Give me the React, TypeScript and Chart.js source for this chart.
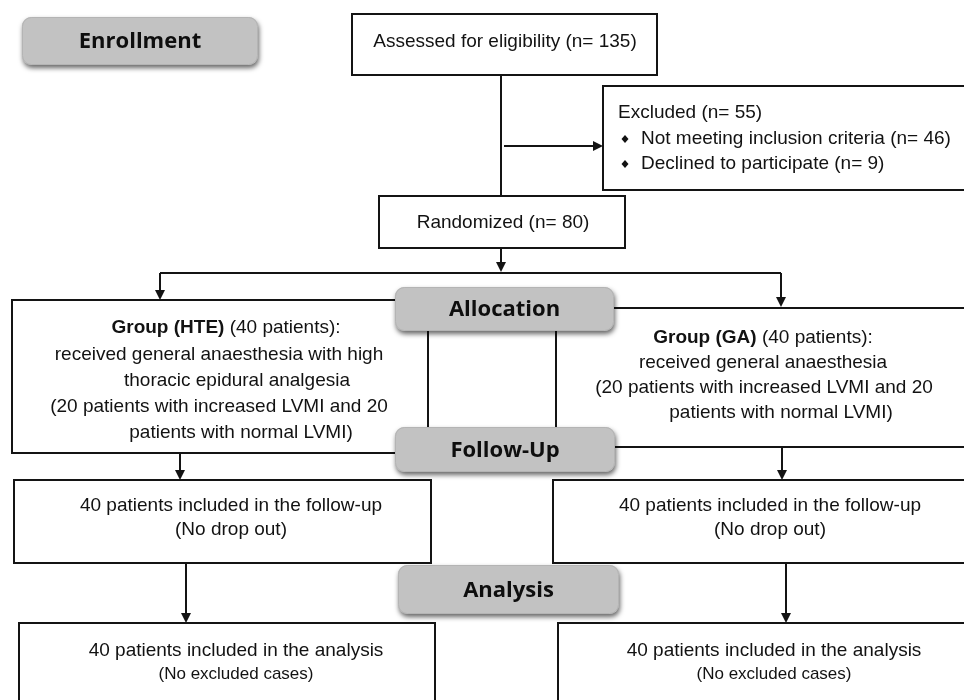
import React, { useEffect, useRef } from "react";
import { Chart, registerables } from "chart.js";

Chart.register(...registerables);

// ---- Text content ----
const stageLabels = ["Enrollment", "Allocation", "Follow-Up", "Analysis"];
const assessedLines = ["Assessed for eligibility (n= 135)"];
const excludedTitle = "Excluded (n= 55)";
const excludedBullets = ["Not meeting inclusion criteria (n= 46)", "Declined to participate (n= 9)"];
const randomizedLines = ["Randomized (n= 80)"];
const hteLines = [
  [["Group (HTE)", true], [" (40 patients):", false]],
  [["received general anaesthesia with high", false]],
  [["thoracic epidural analgesia", false]],
  [["(20 patients with increased LVMI and 20", false]],
  [["patients with normal LVMI)", false]],
];
const gaLines = [
  [["Group (GA)", true], [" (40 patients):", false]],
  [["received general anaesthesia", false]],
  [["(20 patients with increased LVMI and 20", false]],
  [["patients with normal LVMI)", false]],
];
const followUpLines = ["40 patients included in the follow-up", "(No drop out)"];
const analysisLines = ["40 patients included in the analysis", "(No excluded cases)"];

// ---- Layout (diagram coordinates, 964 x 700) ----
const pillRects = [
  [22, 17, 258, 65],
  [395, 287, 614, 331],
  [395, 427, 615, 472],
  [398, 565, 619, 614],
];
const boxRects = {
  assessed: [352, 14, 657, 75],
  excluded: [603, 86, 975, 190],
  randomized: [379, 196, 625, 248],
  hte: [12, 300, 428, 453],
  ga: [556, 308, 975, 447],
  fuL: [14, 480, 431, 563],
  fuR: [553, 480, 975, 563],
  anL: [19, 623, 435, 710],
  anR: [558, 623, 975, 710],
};
const connectors = [
  [[501, 75], [501, 196]],
  [[504, 146], [596, 146]],
  [[501, 248], [501, 264]],
  [[160, 273], [781, 273]],
  [[160, 273], [160, 292]],
  [[781, 273], [781, 300]],
  [[180, 453], [180, 472]],
  [[782, 447], [782, 472]],
  [[186, 563], [186, 615]],
  [[786, 563], [786, 615]],
];
// arrow tips: [x, y, direction]
const arrowTips = [
  [603, 146, "right"],
  [501, 272, "down"],
  [160, 300, "down"],
  [781, 307, "down"],
  [180, 480, "down"],
  [782, 480, "down"],
  [186, 623, "down"],
  [786, 623, "down"],
];

const hteX = [226, 219, 237, 219, 241];
const hteY = [327, 354, 380, 406, 432];
const gaX = [763, 763, 764, 781];
const gaY = [337, 362, 387, 412];

const INK = "#141414";
const FONT = "'Liberation Sans', Arial, sans-serif";
const PILL_FONT = "'Open Sans', 'Noto Sans', sans-serif";

const flowPlugin = {
  id: "flow",
  beforeDatasetsDraw(chart: any) {
    const ctx = chart.ctx as CanvasRenderingContext2D;
    const X = (v: number) => chart.scales.x.getPixelForValue(v);
    const Y = (v: number) => chart.scales.y.getPixelForValue(v);
    ctx.save();
    ctx.fillStyle = "#ffffff";
    ctx.fillRect(0, 0, chart.width, chart.height);
    ctx.strokeStyle = INK;
    ctx.lineWidth = 2;
    Object.values(boxRects).forEach((r: any) => {
      const x0 = X(r[0]), y0 = Y(r[1]), x1 = X(r[2]), y1 = Y(r[3]);
      ctx.fillStyle = "#ffffff";
      ctx.fillRect(x0, y0, x1 - x0, y1 - y0);
      ctx.strokeRect(x0, y0, x1 - x0, y1 - y0);
    });
    ctx.restore();
  },
  afterDatasetsDraw(chart: any) {
    const ctx = chart.ctx as CanvasRenderingContext2D;
    const X = (v: number) => chart.scales.x.getPixelForValue(v);
    const Y = (v: number) => chart.scales.y.getPixelForValue(v);
    ctx.save();

    // arrowheads
    ctx.fillStyle = INK;
    arrowTips.forEach(([x, y, d]: any) => {
      const px = X(x), py = Y(y);
      ctx.beginPath();
      if (d === "down") {
        ctx.moveTo(px, py);
        ctx.lineTo(px - 5, py - 10);
        ctx.lineTo(px + 5, py - 10);
      } else {
        ctx.moveTo(px, py);
        ctx.lineTo(px - 10, py - 5);
        ctx.lineTo(px - 10, py + 5);
      }
      ctx.closePath();
      ctx.fill();
    });

    // pills
    pillRects.forEach((r, i) => {
      const x0 = X(r[0]), y0 = Y(r[1]), x1 = X(r[2]), y1 = Y(r[3]);
      ctx.save();
      ctx.shadowColor = "rgba(0,0,0,0.6)";
      ctx.shadowBlur = 5;
      ctx.shadowOffsetX = 1;
      ctx.shadowOffsetY = 3;
      ctx.fillStyle = "#c2c2c2";
      ctx.beginPath();
      (ctx as any).roundRect(x0, y0, x1 - x0, y1 - y0, 9);
      ctx.fill();
      ctx.restore();
      ctx.strokeStyle = "#b4b4b4";
      ctx.lineWidth = 1;
      ctx.beginPath();
      (ctx as any).roundRect(x0 + 0.5, y0 + 0.5, x1 - x0 - 1, y1 - y0 - 1, 9);
      ctx.stroke();
      ctx.fillStyle = "#0e0e0e";
      ctx.font = `bold 22px ${PILL_FONT}`;
      ctx.textAlign = "center";
      ctx.textBaseline = "middle";
      ctx.fillText(stageLabels[i], (x0 + x1) / 2, (y0 + y1) / 2 + 1);
    });

    // texts
    ctx.fillStyle = "#121212";
    ctx.textBaseline = "middle";
    const plain = (t: string, cx: number, cy: number, size = 19, align: CanvasTextAlign = "center") => {
      ctx.font = `${size}px ${FONT}`;
      ctx.textAlign = align;
      ctx.fillText(t, X(cx), Y(cy) + 1);
    };
    const rich = (segs: any[], cx: number, cy: number, size = 19) => {
      let total = 0;
      const widths = segs.map(([t, b]) => {
        ctx.font = `${b ? "bold " : ""}${size}px ${FONT}`;
        const w = ctx.measureText(t).width;
        total += w;
        return w;
      });
      let x = X(cx) - total / 2;
      ctx.textAlign = "left";
      segs.forEach(([t, b], k) => {
        ctx.font = `${b ? "bold " : ""}${size}px ${FONT}`;
        ctx.fillText(t, x, Y(cy) + 1);
        x += widths[k];
      });
    };

    plain(assessedLines[0], 505, 41);
    plain(excludedTitle, 618, 112, 19, "left");
    excludedBullets.forEach((t, k) => {
      const by = 138 + k * 25;
      const bx = X(625), byy = Y(by) + 1;
      ctx.beginPath();
      ctx.moveTo(bx, byy - 4);
      ctx.lineTo(bx + 3.5, byy);
      ctx.lineTo(bx, byy + 4);
      ctx.lineTo(bx - 3.5, byy);
      ctx.closePath();
      ctx.fill();
      plain(t, 641, by, 19, "left");
    });
    plain(randomizedLines[0], 503, 222);
    hteLines.forEach((segs, k) => rich(segs, hteX[k], hteY[k]));
    gaLines.forEach((segs, k) => rich(segs, gaX[k], gaY[k]));
    plain(followUpLines[0], 231, 505);
    plain(followUpLines[1], 231, 529);
    plain(followUpLines[0], 770, 505);
    plain(followUpLines[1], 770, 529);
    plain(analysisLines[0], 236, 650);
    plain(analysisLines[1], 236, 673, 17);
    plain(analysisLines[0], 774, 650);
    plain(analysisLines[1], 774, 673, 17);

    ctx.restore();
  },
};

export default function App() {
  const ref = useRef<HTMLCanvasElement | null>(null);
  useEffect(() => {
    if (!ref.current) return;
    const datasets = connectors.map((seg) => ({
      data: seg.map(([x, y]) => ({ x, y })),
      showLine: true,
      borderColor: INK,
      borderWidth: 2,
      pointRadius: 0,
      fill: false,
      tension: 0,
    }));
    const chart = new Chart(ref.current, {
      type: "scatter",
      data: { datasets },
      options: {
        animation: false,
        responsive: false,
        devicePixelRatio: 1,
        layout: { padding: 0 },
        events: [],
        plugins: { legend: { display: false }, tooltip: { enabled: false } },
        scales: {
          x: { type: "linear", min: 0, max: 964, display: false },
          y: { type: "linear", min: 0, max: 700, reverse: true, display: false },
        },
      },
      plugins: [flowPlugin],
    } as any);
    return () => chart.destroy();
  }, []);
  return (
    <div style={{ position: "fixed", left: 0, top: 0, width: 964, height: 700, background: "#fff" }}>
      <canvas ref={ref} width={964} height={700} style={{ width: 964, height: 700, display: "block" }} />
    </div>
  );
}
